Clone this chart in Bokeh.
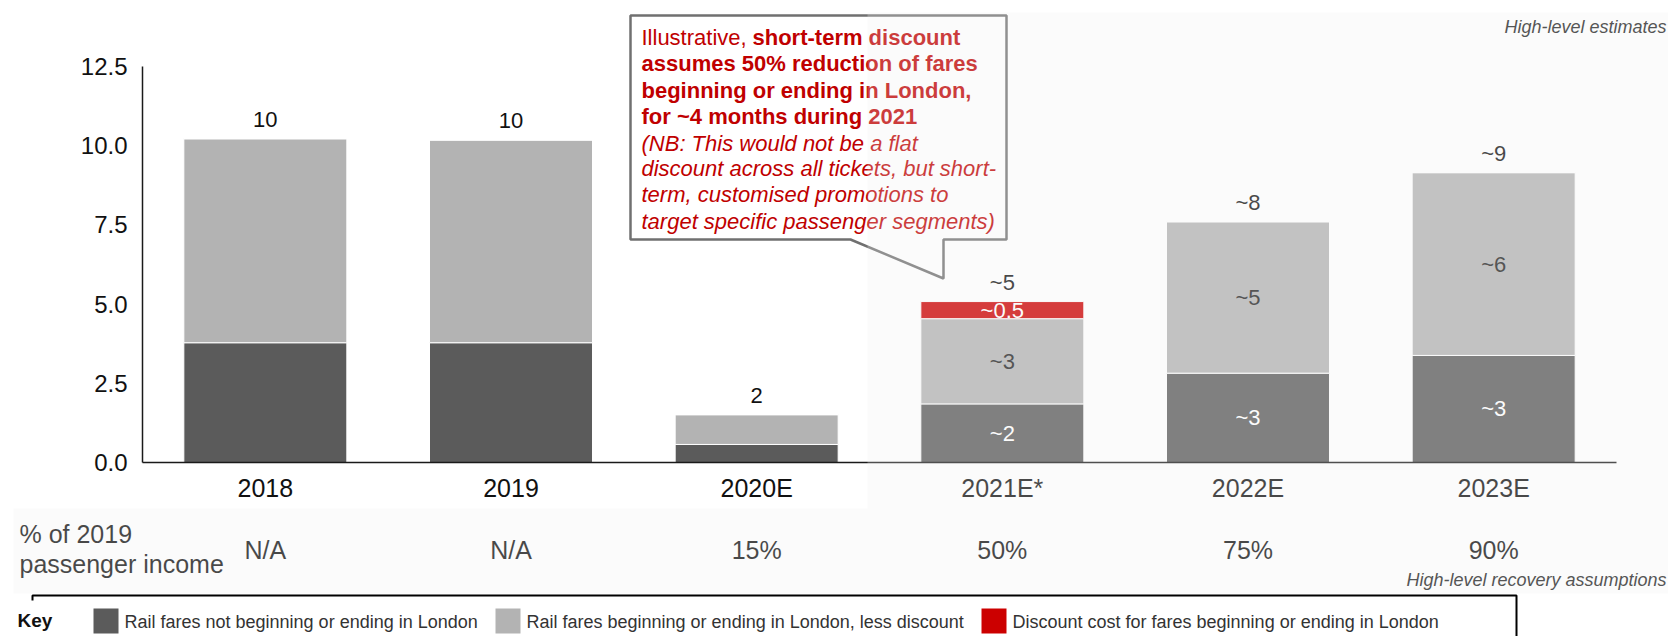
import numpy as np
from bokeh.plotting import figure
from bokeh.models import (Range1d, FixedTicker, NumeralTickFormatter, ColumnDataSource,
                          LabelSet, Label, BoxAnnotation, PolyAnnotation, LinearAxis)
from bokeh.core.properties import value
from bokeh.embed import file_html
from bokeh.resources import INLINE

# ---------------- data ----------------
categories = ["2018", "2019", "2020E", "2021E*", "2022E", "2023E"]
outside_london = [3.78, 3.78, 0.57, 1.85, 2.82, 3.38]
london_less_discount = [6.44, 6.40, 0.94, 2.69, 4.78, 5.77]
discount_cost = [0.0, 0.0, 0.0, 0.54, 0.0, 0.0]
total_labels = ["10", "10", "2", "~5", "~8", "~9"]
outside_labels = ["", "", "", "~2", "~3", "~3"]
london_labels = ["", "", "", "~3", "~5", "~6"]
discount_labels = ["", "", "", "~0.5", "", ""]
pct_of_2019 = ["N/A", "N/A", "15%", "50%", "75%", "90%"]
y_ticks = [0, 2.5, 5, 7.5, 10, 12.5]
series_names = ["Rail fares not beginning or ending in London",
                "Rail fares beginning or ending in London, less discount",
                "Discount cost for fares beginning or ending in London"]
series_colors = ["#5b5b5b", "#b3b3b3", "#cc0000"]

FONT = "Liberation Sans"

# ---------------- geometry (pixels of the picture) ----------------
W, H = 1668, 636
AX_L, AX_R, AX_B = 142, 1616, 462     # axis box
PXX = (AX_R - AX_L) / len(categories)
PXY = 396 / 12.5


def X(px):
    return (px - AX_L) / PXX


def Y(py):
    return (AX_B - py) / PXY


p = figure(width=W, height=H,
           x_range=Range1d(X(0), X(W)),
           y_range=Range1d(Y(H), Y(0)),
           x_axis_location=None, y_axis_location=None,
           min_border=0, toolbar_location=None, output_backend="svg")
p.outline_line_color = None
p.xgrid.visible = False
p.ygrid.visible = False
p.background_fill_color = "white"
p.border_fill_color = "white"

xs = list(np.arange(len(categories)) + 0.5)

# axes
yaxis = LinearAxis(fixed_location=0, bounds=(0, 12.5), ticker=FixedTicker(ticks=y_ticks),
                   formatter=NumeralTickFormatter(format="0.0"))
xaxis = LinearAxis(fixed_location=0, bounds=(0, len(categories)), ticker=FixedTicker(ticks=xs),
                   major_label_overrides={float(x): c for x, c in zip(xs, categories)})
for ax in (xaxis, yaxis):
    ax.major_tick_line_color = None
    ax.minor_tick_line_color = None
    ax.axis_line_color = "#1a1a1a"
    ax.axis_line_width = 1.5
    ax.major_label_text_font = FONT
    ax.major_label_text_color = "#111111"
yaxis.major_label_text_font_size = "24px"
yaxis.major_label_standoff = 9
xaxis.major_label_text_font_size = "25px"
xaxis.major_label_standoff = 5
p.add_layout(yaxis, "left")
p.add_layout(xaxis, "below")

# bars
src = ColumnDataSource(dict(x=xs, outside=outside_london, london=london_less_discount,
                            discount=discount_cost))
p.vbar_stack(["outside", "london", "discount"], x="x", width=0.6635, color=series_colors,
             line_color="white", line_width=1, source=src)

# value labels
tot = [a + b + c for a, b, c in zip(outside_london, london_less_discount, discount_cost)]
p.add_layout(LabelSet(source=ColumnDataSource(dict(x=xs, y=tot, t=total_labels)),
                      x="x", y="y", text="t", y_offset=19, text_align="center",
                      text_baseline="middle", text_font=value(FONT),
                      text_font_size="22px", text_color="#111111"))
seg_x, seg_y, seg_t, seg_c = [], [], [], []
for i in range(len(categories)):
    a, b, c = outside_london[i], london_less_discount[i], discount_cost[i]
    for lab, mid, col in ((outside_labels[i], a / 2, "white"),
                          (london_labels[i], a + b / 2, "#222222"),
                          (discount_labels[i], a + b + c / 2, "white")):
        if lab:
            seg_x.append(xs[i]); seg_y.append(mid); seg_t.append(lab); seg_c.append(col)
p.add_layout(LabelSet(source=ColumnDataSource(dict(x=seg_x, y=seg_y, t=seg_t, c=seg_c)),
                      x="x", y="y", text="t", text_color="c", text_align="center",
                      text_baseline="middle", text_font=value(FONT),
                      text_font_size="22px"))


def label(px, py, text, size, align="left", style="normal", color="#222222"):
    p.add_layout(Label(x=X(px), y=Y(py), text=text, text_font=FONT,
                       text_font_size=size, text_align=align, text_baseline="middle",
                       text_font_style=style, text_color=color))


# callout
cx = [630, 1006, 1006, 943, 943, 850, 630]
cy = [15, 15, 239, 239, 278, 239, 239]
p.add_layout(PolyAnnotation(xs=[X(v) for v in cx], ys=[Y(v) for v in cy],
                            fill_color="white", fill_alpha=1.0,
                            line_color="#707070", line_alpha=1.0, line_width=2.5))
RED = "#c00000"
label(641, 37, "Illustrative, ", "22px", color=RED)
label(752, 37, "short-term discount", "22px", style="bold", color=RED)
label(641, 63, "assumes 50% reduction of fares", "22px", style="bold", color=RED)
label(641, 90, "beginning or ending in London,", "22px", style="bold", color=RED)
label(641, 116, "for ~4 months during 2021", "22px", style="bold", color=RED)
label(641, 143, "(NB: This would not be a flat", "22px", style="italic", color=RED)
label(641, 168, "discount across all tickets, but short-", "22px", style="italic", color=RED)
label(641, 194, "term, customised promotions to", "22px", style="italic", color=RED)
label(641, 221, "target specific passenger segments)", "22px", style="italic", color=RED)

# notes
label(1666, 26, "High-level estimates", "18px", align="right", style="italic", color="#222222")
label(1666, 579, "High-level recovery assumptions", "18px", align="right", style="italic",
      color="#222222")

# recovery row
label(19, 533, "% of 2019", "25px", color="#111111")
label(19, 563, "passenger income", "25px", color="#111111")
for x, t in zip(xs, pct_of_2019):
    p.add_layout(Label(x=x, y=Y(549), text=t, text_font=FONT, text_font_size="25px",
                       text_align="center", text_baseline="middle", text_color="#111111"))

# key
p.add_layout(BoxAnnotation(left=X(32), right=X(1516), top=Y(595), bottom=Y(720),
                           fill_alpha=0, line_color="black", line_alpha=1.0, line_width=2))
p.add_layout(BoxAnnotation(left=X(13), right=X(56), top=Y(600), bottom=Y(637),
                           fill_color="white", fill_alpha=1, line_color=None))
label(17, 620, "Key", "19px", style="bold", color="#111111")
for sq_x, name, col in zip([93, 495, 981], series_names, series_colors):
    p.add_layout(BoxAnnotation(left=X(sq_x), right=X(sq_x + 25), top=Y(608), bottom=Y(633),
                               fill_color=col, fill_alpha=1, line_color=None))
    label(sq_x + 31, 621, name, "18px", color="#333333")

# translucent shading overlays
for l, r, t, b in ((867, 1700, 12, 508), (13, 1700, 508, 593)):
    p.add_layout(BoxAnnotation(left=X(l), right=X(r), top=Y(t), bottom=Y(b),
                               fill_color="#eeeeee", fill_alpha=0.25, line_color=None,
                               level="overlay"))

open("out.html", "w").write(file_html(p, INLINE))
